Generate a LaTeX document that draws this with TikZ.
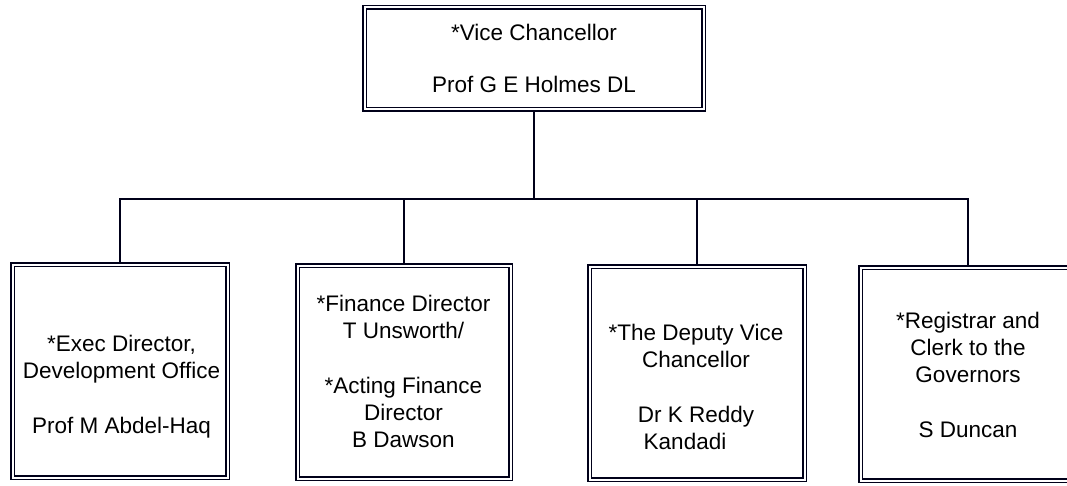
\documentclass[tikz,border=0pt]{standalone}
\usepackage{fontspec}
\setmainfont{Liberation Sans}
\begin{document}
\begin{tikzpicture}[x=1pt,y=-1pt,
  box/.style={draw=black!90!blue, line width=1.8pt, double=white, double distance=2pt,
    rectangle, inner sep=0pt, outer sep=2.8pt, minimum width=#1},
  box/.default=215pt,
  lbl/.style={align=center, inner sep=0pt, font=\fontsize{22.5}{27}\selectfont, text=black},
  conn/.style={draw=black!90!blue, line width=1.6pt}]
\useasboundingbox (0,0) rectangle (1067,486);
% boxes
\node[box=339pt, minimum height=102pt] (vc) at (534,58.5) {};
\node[box, minimum height=213pt] (ed) at (120,371) {};
\node[box=213pt, minimum height=213pt] (fd) at (404,372) {};
\node[box, minimum height=213pt] (dvc) at (697,373) {};
\node[box, minimum height=213pt] (reg) at (968,374) {};
% texts
\node[lbl] (vct) at (534,58) {*Vice Chancellor\\[25pt]Prof G E Holmes DL};
\node[lbl] (edt) at (121.5,386.5) {*Exec Director,\\Development Office\\[28pt]Prof M Abdel-Haq};
\node[lbl] (fdt) at (403.5,371.5) {*Finance Director\\T Unsworth/\\[28pt]*Acting Finance\\Director\\B Dawson};
\node[lbl] (dvct) at (696,386.5) {*The Deputy Vice\\Chancellor\\[28pt]Dr K Reddy\\Kandadi\rule{22pt}{0pt}};
\node[lbl] (regt) at (968,375) {*Registrar and\\Clerk to the\\Governors\\[28pt]S Duncan};
% connectors
\coordinate (j) at (534,199);
\draw[conn] (vc.south) -- (j);
\draw[conn] (ed.north) |- (j) -| (reg.north);
\draw[conn] (fd.north) -- (fd.north |- j);
\draw[conn] (dvc.north) -- (dvc.north |- j);
\end{tikzpicture}
\end{document}
